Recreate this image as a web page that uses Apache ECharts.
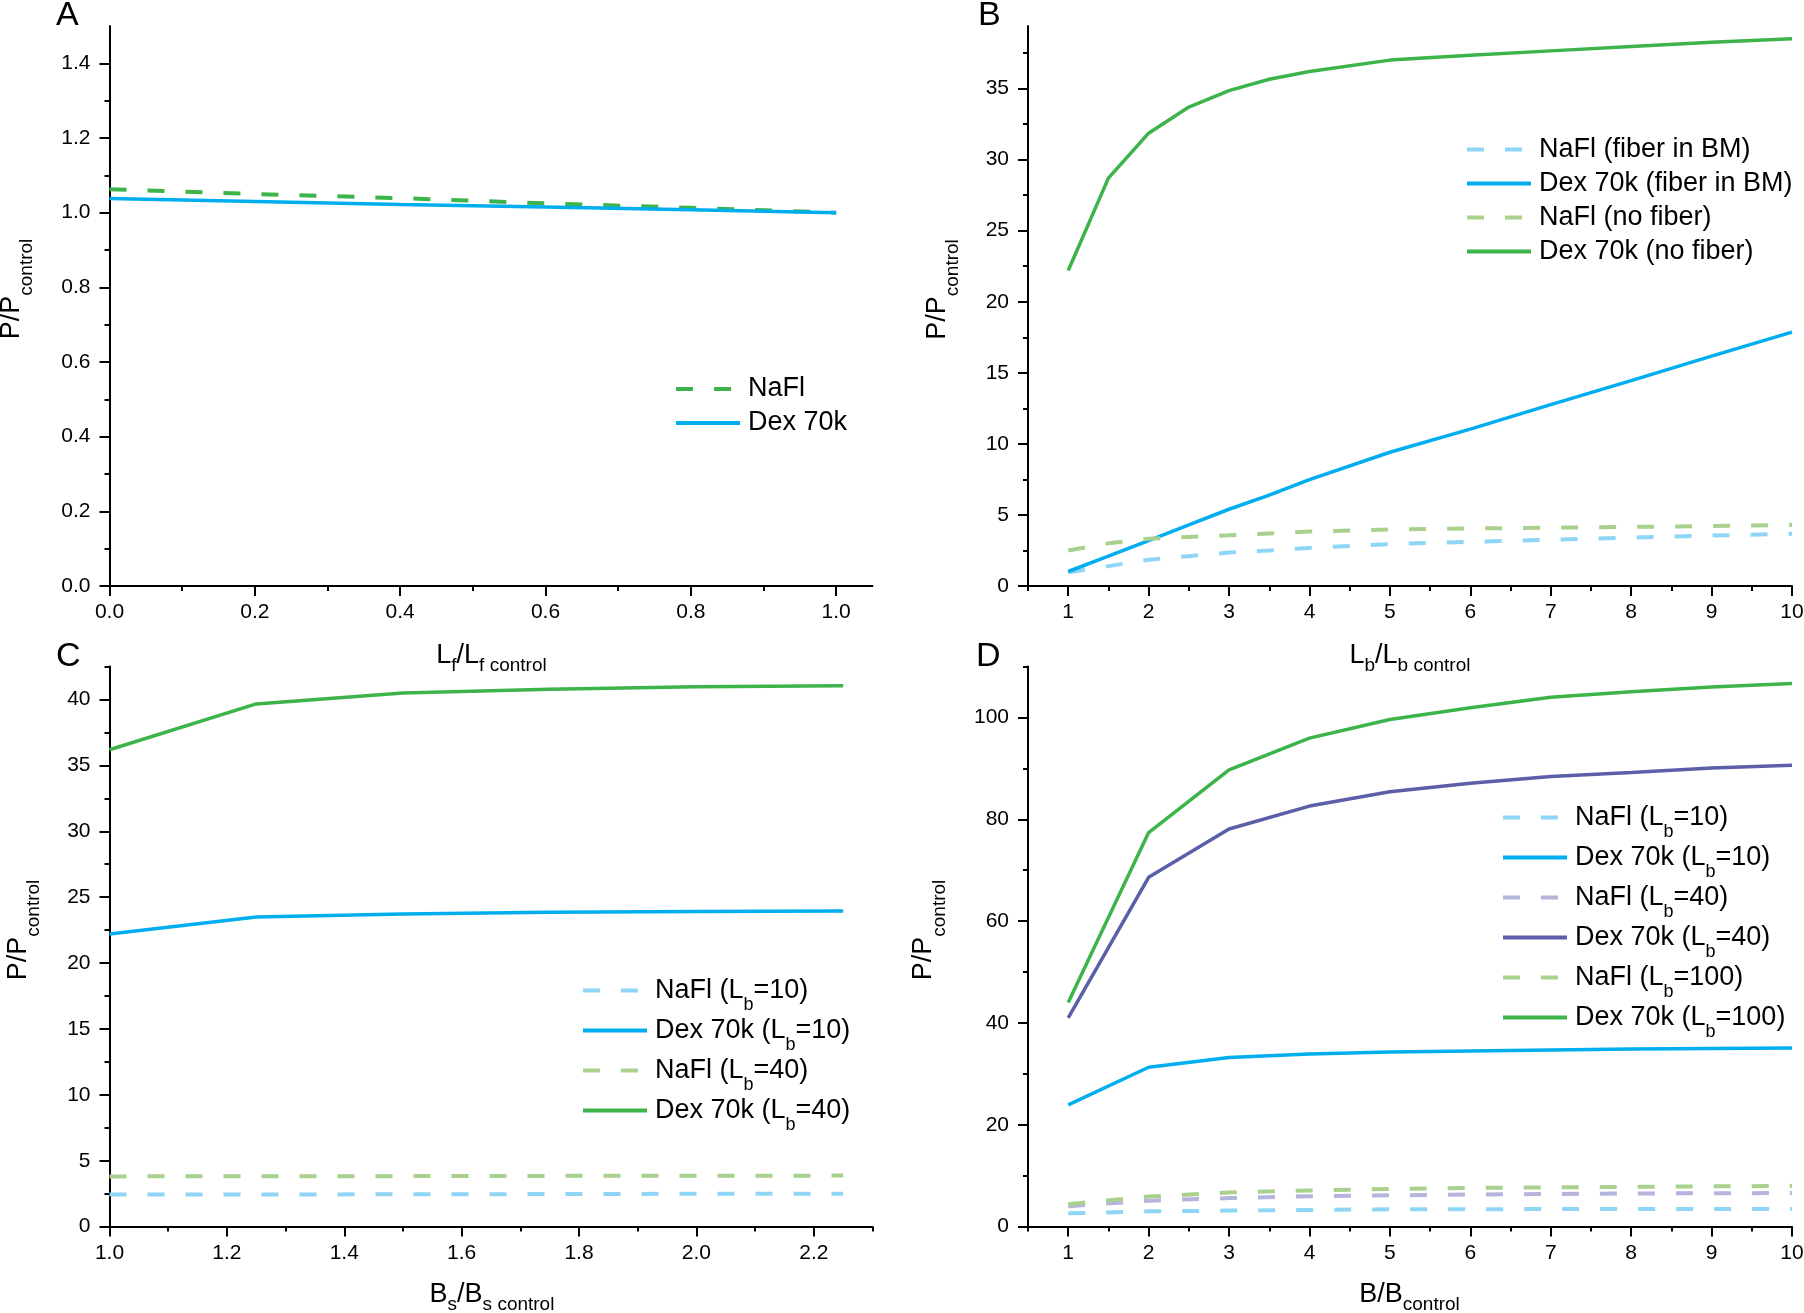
<!DOCTYPE html>
<html>
<head>
<meta charset="utf-8">
<script src="https://cdn.jsdelivr.net/npm/echarts@6/dist/echarts.min.js"></script>
<style>html,body{margin:0;padding:0;background:#fff}#c{width:1804px;height:1313px}</style>
</head>
<body>
<div id="c"></div>
<script>
// ---------- data ----------
const A_x = [0, 0.2, 0.4, 0.6, 0.8, 1.0];
const A_nafl = [1.063, 1.050, 1.039, 1.025, 1.013, 1.000];
const A_dex = [1.038, 1.030, 1.022, 1.015, 1.008, 1.000];
const A_labels = ['NaFl', 'Dex 70k'];

const B_x = [1, 1.5, 2, 2.5, 3, 3.5, 4, 5, 6, 7, 8, 9, 10];
const B_nafl_fiber = [0.96, 1.4, 1.85, 2.1, 2.35, 2.5, 2.68, 2.95, 3.1, 3.25, 3.4, 3.55, 3.67];
const B_dex_fiber = [1.02, 2.1, 3.2, 4.3, 5.4, 6.4, 7.48, 9.41, 11.04, 12.76, 14.45, 16.17, 17.86];
const B_nafl_nofiber = [2.5, 3.0, 3.33, 3.45, 3.57, 3.7, 3.83, 3.98, 4.05, 4.1, 4.16, 4.22, 4.3];
const B_dex_nofiber = [22.2, 28.7, 31.86, 33.7, 34.85, 35.65, 36.2, 37.0, 37.35, 37.65, 37.95, 38.25, 38.5];
const B_labels = ['NaFl (fiber in BM)', 'Dex 70k (fiber in BM)', 'NaFl (no fiber)', 'Dex 70k (no fiber)'];

const C_x = [1.0, 1.25, 1.5, 1.75, 2.0, 2.25];
const C_nafl10 = [2.44, 2.44, 2.45, 2.47, 2.49, 2.5];
const C_dex10 = [22.2, 23.5, 23.73, 23.86, 23.92, 23.95];
const C_nafl40 = [3.81, 3.82, 3.83, 3.85, 3.86, 3.87];
const C_dex40 = [36.19, 39.67, 40.49, 40.78, 40.98, 41.04];
const C_labels = ['NaFl (L_b=10)', 'Dex 70k (L_b=10)', 'NaFl (L_b=40)', 'Dex 70k (L_b=40)'];

const D_x = [1, 2, 3, 4, 5, 6, 7, 8, 9, 10];
const D_nafl10 = [2.6, 3.0, 3.14, 3.27, 3.4, 3.42, 3.44, 3.45, 3.46, 3.47];
const D_dex10 = [23.9, 31.3, 33.2, 33.9, 34.3, 34.5, 34.7, 34.9, 35.0, 35.1];
const D_nafl40 = [4.0, 5.1, 5.6, 5.95, 6.14, 6.3, 6.4, 6.5, 6.55, 6.6];
const D_dex40 = [41.0, 68.6, 78.1, 82.6, 85.4, 87.1, 88.4, 89.2, 90.1, 90.6];
const D_nafl100 = [4.4, 5.9, 6.7, 7.1, 7.4, 7.6, 7.7, 7.8, 7.9, 8.0];
const D_dex100 = [44.0, 77.4, 89.7, 95.95, 99.6, 101.9, 104.0, 105.05, 106.0, 106.7];
const D_labels = ['NaFl (L_b=10)', 'Dex 70k (L_b=10)', 'NaFl (L_b=40)', 'Dex 70k (L_b=40)', 'NaFl (L_b=100)', 'Dex 70k (L_b=100)'];

// tick values
const A_xMajor = [0, 0.2, 0.4, 0.6, 0.8, 1.0];
const A_xMinor = [0.1, 0.3, 0.5, 0.7, 0.9];
const A_yMajor = [0, 0.2, 0.4, 0.6, 0.8, 1.0, 1.2, 1.4];
const A_yMinor = [0.1, 0.3, 0.5, 0.7, 0.9, 1.1, 1.3];
const BD_xMajor = [1, 2, 3, 4, 5, 6, 7, 8, 9, 10];
const BD_xMinor = [0.5, 1.5, 2.5, 3.5, 4.5, 5.5, 6.5, 7.5, 8.5, 9.5];
const B_yMajor = [0, 5, 10, 15, 20, 25, 30, 35];
const B_yMinor = [2.5, 7.5, 12.5, 17.5, 22.5, 27.5, 32.5, 37.5];
const C_xMajor = [1.0, 1.2, 1.4, 1.6, 1.8, 2.0, 2.2];
const C_xMinor = [1.1, 1.3, 1.5, 1.7, 1.9, 2.1, 2.3];
const C_yMajor = [0, 5, 10, 15, 20, 25, 30, 35, 40];
const C_yMinor = [2.5, 7.5, 12.5, 17.5, 22.5, 27.5, 32.5, 37.5, 42.5];
const D_yMajor = [0, 20, 40, 60, 80, 100];
const D_yMinor = [10, 30, 50, 70, 90, 110];

// ---------- style ----------
const F = '"Liberation Sans", Arial, Helvetica, sans-serif';
const COL = {
  blue: '#00aeef', lblue: '#8fd5f6',
  green: '#3cb44a', lgreen: '#a9d18e',
  purple: '#5b5ea8', lpurple: '#b4b4dc'
};
const DASH = [17, 21];

const grids = [
  {left: 109.5, top: 26, width: 763, height: 560},
  {left: 1028, top: 26, width: 764, height: 560},
  {left: 109.5, top: 666.6, width: 763, height: 560},
  {left: 1028, top: 666.6, width: 764, height: 560}
];

function fmt1(v) { return v.toFixed(1); }
function fmt0(v) { return String(Math.round(v)); }

function axisPair(isX, gi, min, max, majors, minors, fmt) {
  const pos = isX ? 'bottom' : 'left';
  const main = {
    type: 'value', gridIndex: gi, min: min, max: max, position: pos,
    axisLine: {show: true, onZero: false, lineStyle: {color: '#000', width: 2}},
    axisTick: {show: true, inside: false, length: 10, customValues: majors, lineStyle: {color: '#000', width: 2}},
    axisLabel: {show: true, customValues: majors, formatter: fmt, margin: isX ? 16 : 19,
      fontSize: 21, fontFamily: F, color: '#000'},
    splitLine: {show: false}
  };
  const minor = {
    type: 'value', gridIndex: gi, min: min, max: max, position: pos,
    axisLine: {show: false, onZero: false},
    axisTick: {show: true, inside: false, length: 5, customValues: minors, lineStyle: {color: '#000', width: 2}},
    axisLabel: {show: false},
    splitLine: {show: false}
  };
  return [main, minor];
}

const xAxes = [].concat(
  axisPair(true, 0, 0, 1.05, A_xMajor, A_xMinor, fmt1),
  axisPair(true, 1, 0.5, 10, BD_xMajor, BD_xMinor, fmt0),
  axisPair(true, 2, 1.0, 2.3, C_xMajor, C_xMinor, fmt1),
  axisPair(true, 3, 0.5, 10, BD_xMajor, BD_xMinor, fmt0)
);
const yAxes = [].concat(
  axisPair(false, 0, 0, 1.5, A_yMajor, A_yMinor, fmt1),
  axisPair(false, 1, 0, 39.4, B_yMajor, B_yMinor, fmt0),
  axisPair(false, 2, 0, 42.5, C_yMajor, C_yMinor, fmt0),
  axisPair(false, 3, 0, 110, D_yMajor, D_yMinor, fmt0)
);

function zip(xs, ys) { return xs.map((x, i) => [x, ys[i]]); }

const legendItems = {A: [], B: [], C: [], D: []};

function line(panel, gi, label, xs, ys, color, dashed) {
  const ls = {color: color, width: dashed ? 4 : 3.5, type: dashed ? DASH : 'solid', cap: 'butt'};
  legendItems[panel].push({
    name: panel + ':' + label,
    lineStyle: {color: color, width: 4, type: dashed ? DASH : 'solid', cap: 'butt', opacity: 1},
    itemStyle: {opacity: 0, borderWidth: 0}
  });
  return {
    type: 'line', name: panel + ':' + label,
    xAxisIndex: gi * 2, yAxisIndex: gi * 2,
    data: zip(xs, ys),
    symbol: 'none', showSymbol: false, smooth: false,
    lineStyle: ls,
    itemStyle: {color: color},
    emphasis: {disabled: true},
    animation: false
  };
}

const series = [
  line('A', 0, A_labels[0], A_x, A_nafl, COL.green, true),
  line('A', 0, A_labels[1], A_x, A_dex, COL.blue, false),

  line('B', 1, B_labels[0], B_x, B_nafl_fiber, COL.lblue, true),
  line('B', 1, B_labels[1], B_x, B_dex_fiber, COL.blue, false),
  line('B', 1, B_labels[2], B_x, B_nafl_nofiber, COL.lgreen, true),
  line('B', 1, B_labels[3], B_x, B_dex_nofiber, COL.green, false),

  line('C', 2, C_labels[0], C_x, C_nafl10, COL.lblue, true),
  line('C', 2, C_labels[1], C_x, C_dex10, COL.blue, false),
  line('C', 2, C_labels[2], C_x, C_nafl40, COL.lgreen, true),
  line('C', 2, C_labels[3], C_x, C_dex40, COL.green, false),

  line('D', 3, D_labels[0], D_x, D_nafl10, COL.lblue, true),
  line('D', 3, D_labels[1], D_x, D_dex10, COL.blue, false),
  line('D', 3, D_labels[2], D_x, D_nafl40, COL.lpurple, true),
  line('D', 3, D_labels[3], D_x, D_dex40, COL.purple, false),
  line('D', 3, D_labels[4], D_x, D_nafl100, COL.lgreen, true),
  line('D', 3, D_labels[5], D_x, D_dex100, COL.green, false)
];

function richify(name) {
  const label = name.slice(name.indexOf(':') + 1);
  const m = label.match(/^(.*)_(\w)(.*)$/);
  if (!m) return '{f|' + label + '}';
  return '{f|' + m[1] + '}{s|' + m[2] + '}{m|' + m[3] + '}';
}

function legendFor(panel, left, top, lh, gap) {
  return {
    show: true, orient: 'vertical', left: left, top: top, padding: 0,
    itemGap: gap, itemWidth: 64, itemHeight: 14,
    selectedMode: false,
    itemStyle: {opacity: 0, borderWidth: 0},
    data: legendItems[panel],
    formatter: richify,
    textStyle: {
      color: '#000', fontFamily: F, fontSize: 27, lineHeight: lh,
      rich: {
        f: {fontSize: 27, fontFamily: F, color: '#000', lineHeight: lh, padding: [0, 0, 0, 3]},
        m: {fontSize: 27, fontFamily: F, color: '#000', lineHeight: lh},
        s: {fontSize: 18, fontFamily: F, color: '#000', lineHeight: lh, padding: [30, 0, 0, 0]}
      }
    }
  };
}

const legends = [
  legendFor('A', 674, 372, 34, 0),
  legendFor('B', 1465, 132.6, 34, 0),
  legendFor('C', 581, 966.5, 40, -8),
  legendFor('D', 1501, 793.5, 40, -8)
];

const titleRich = {
  m: {fontSize: 27, fontFamily: F, fill: '#000', lineHeight: 30},
  s: {fontSize: 19, fontFamily: F, fill: '#000', lineHeight: 30, padding: [20, 0, 0, 0]},
  t: {fontSize: 19, fontFamily: F, fill: '#000', lineHeight: 30, padding: [31, 0, 0, 0]}
};

function txt(x, y, text, rot) {
  return {
    type: 'text', x: x, y: y, rotation: rot || 0, silent: true,
    style: {text: text, rich: titleRich, align: 'center', verticalAlign: 'middle', fill: '#000',
      fontSize: 27, fontFamily: F}
  };
}
function letter(x, y, t) {
  return {
    type: 'text', x: x, y: y, silent: true,
    style: {text: t, fontSize: 34, fontFamily: F, fill: '#000', align: 'left', verticalAlign: 'middle'}
  };
}

const graphics = [
  letter(56, 15.5, 'A'), letter(978, 15.5, 'B'), letter(56, 657, 'C'), letter(976, 657, 'D'),
  txt(491.5, 655.5, '{m|L}{s|f}{m|/L}{s|f control}'),
  txt(1410, 655.5, '{m|L}{s|b}{m|/L}{s|b control}'),
  txt(492, 1294.5, '{m|B}{s|s}{m|/B}{s|s control}'),
  txt(1409.5, 1294.5, '{m|B/B}{s|control}'),
  txt(11.5, 289, '{m|P/P}{t|control}', Math.PI / 2),
  txt(937.5, 289.5, '{m|P/P}{t|control}', Math.PI / 2),
  txt(18.5, 930, '{m|P/P}{t|control}', Math.PI / 2),
  txt(924, 930, '{m|P/P}{t|control}', Math.PI / 2)
];

const chart = echarts.init(document.getElementById('c'), null, {renderer: 'canvas', width: 1804, height: 1313});
chart.setOption({
  backgroundColor: '#fff',
  animation: false,
  textStyle: {fontFamily: F},
  grid: grids.map(g => Object.assign({containLabel: false, outerBoundsMode: 'none'}, g)),
  xAxis: xAxes,
  yAxis: yAxes,
  legend: legends,
  series: series,
  graphic: graphics
});
</script>
</body>
</html>
